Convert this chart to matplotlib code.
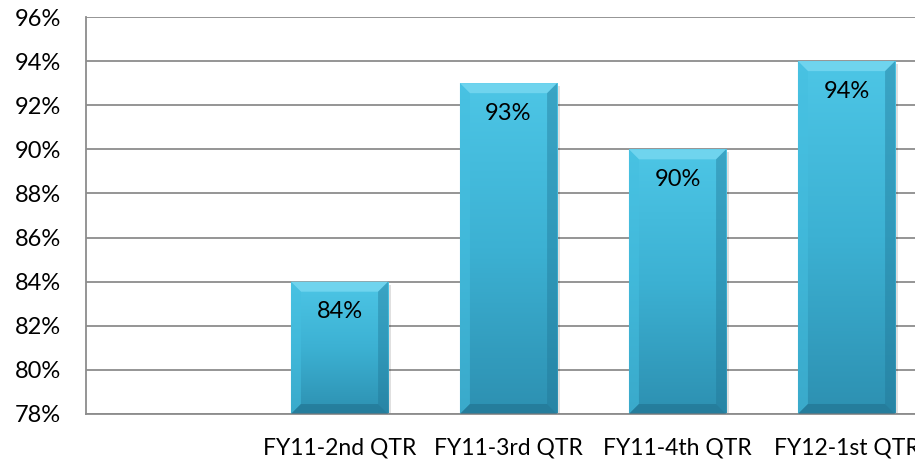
import numpy as np
import matplotlib
matplotlib.use("Agg")
import matplotlib.pyplot as plt
from matplotlib.patches import Polygon
from matplotlib.colors import LinearSegmentedColormap

plt.rcParams['font.family'] = ['Lato', 'DejaVu Sans']

categories = ["", "FY11-2nd QTR", "FY11-3rd QTR", "FY11-4th QTR", "FY12-1st QTR"]
values = [np.nan, 84, 93, 90, 94]
y_ticks = list(range(78, 97, 2))
y_min, y_max = 78, 96

W, H = 915, 462
fig = plt.figure(figsize=(W / 100, H / 100), dpi=100)
left_px, right_px, top_px, bottom_px = 86, 931, 17, 414
ax = fig.add_axes([left_px / W, 1 - bottom_px / H,
                   (right_px - left_px) / W, (bottom_px - top_px) / H])

x = np.arange(len(categories))
bar_w = 0.575
ax.set_xlim(-0.5, len(categories) - 0.5)
ax.set_ylim(y_min, y_max)

for y in y_ticks:
    ax.axhline(y, color="#8c8c8c", lw=1.3, zorder=0)

bars = ax.bar(x, [0 if np.isnan(v) else v - y_min for v in values],
              bottom=y_min, width=bar_w, color="none", edgecolor="none", zorder=2)

# pixel -> data scale for the bevel edges
px_x = len(categories) / (right_px - left_px)
px_y = (y_max - y_min) / (bottom_px - top_px)
bev = 10

cmap = LinearSegmentedColormap.from_list("bar", ["#2d90b1", "#3cb1d3", "#4dc6e6"])
for rect, v in zip(bars, values):
    if np.isnan(v):
        continue
    x0, x1 = rect.get_x(), rect.get_x() + rect.get_width()
    y0, y1 = y_min, v
    # soft drop shadow on the right and bottom
    ax.add_patch(Polygon([[x0 + 3 * px_x, y0 - 3 * px_y], [x1 + 3 * px_x, y0 - 3 * px_y],
                          [x1 + 3 * px_x, y1 - 3 * px_y], [x0 + 3 * px_x, y1 - 3 * px_y]],
                         closed=True, fc="#000000", ec="none", alpha=0.12, zorder=1.9))
    grad = np.linspace(0, 1, 256).reshape(-1, 1)
    im = ax.imshow(grad, cmap=cmap, origin="lower", aspect="auto",
                   extent=[x0, x1, y0, y1], zorder=2)
    im.set_clip_path(rect)
    bx, by = bev * px_x, bev * px_y
    # bevelled faces
    ax.add_patch(Polygon([[x0, y1], [x1, y1], [x1 - bx, y1 - by], [x0 + bx, y1 - by]],
                         closed=True, fc="#74d6f0", ec="none", alpha=0.9, zorder=3))
    ax.add_patch(Polygon([[x0, y1], [x0 + bx, y1 - by], [x0 + bx, y0 + by], [x0, y0]],
                         closed=True, fc="#45bfe0", ec="none", alpha=0.55, zorder=3))
    ax.add_patch(Polygon([[x1, y1], [x1 - bx, y1 - by], [x1 - bx, y0 + by], [x1, y0]],
                         closed=True, fc="#1f7393", ec="none", alpha=0.4, zorder=3))
    ax.add_patch(Polygon([[x0, y0], [x0 + bx, y0 + by], [x1 - bx, y0 + by], [x1, y0]],
                         closed=True, fc="#1c6683", ec="none", alpha=0.45, zorder=3))
    ax.text(rect.get_x() + rect.get_width() / 2, v - 30 * px_y, f"{v:.0f}%",
            ha="center", va="center", fontsize=17, color="black", zorder=4)

ax.set_yticks(y_ticks)
ax.set_yticklabels([f"{t}%" for t in y_ticks], fontsize=17)
ax.set_xticks(x)
ax.set_xticklabels(categories, fontsize=16.5)
ax.tick_params(axis="both", length=0)
ax.tick_params(axis="y", pad=18)
ax.tick_params(axis="x", pad=17)
for s in ["top", "right"]:
    ax.spines[s].set_visible(False)
for s in ["left", "bottom"]:
    ax.spines[s].set_color("#8c8c8c")
    ax.spines[s].set_linewidth(1.3)

fig.savefig("out.png", dpi=100)
